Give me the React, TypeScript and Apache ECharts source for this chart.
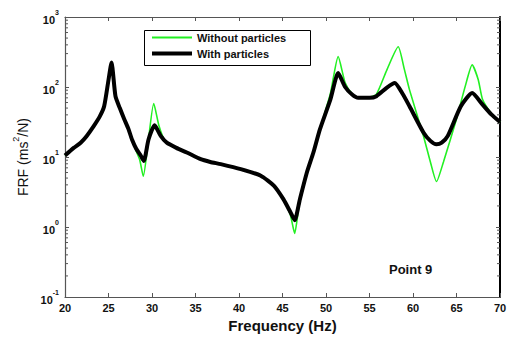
import React, { useEffect, useRef } from "react";
import * as echarts from "echarts";

const freqWith = [20, 21, 21.8, 22.5, 23.3, 24, 24.5, 25, 25.35, 25.8, 26.3, 26.8, 27.3, 27.7, 28.2, 28.7, 29.06, 29.6, 30.3, 31, 31.7, 32.8, 34, 35.6, 36.7, 37.9, 40.2, 42.5, 44, 45.1, 45.9, 46.4, 47, 47.8, 48.55, 49.3, 50.5, 51.4, 52.2, 53, 53.7, 55, 55.8, 57, 57.9, 58.8, 59.6, 61.2, 62, 62.7, 63.3, 64, 65.5, 66.8, 68, 69, 70];
const valWith = [10.5, 13.5, 16, 20, 27.6, 38, 53, 126, 223, 74, 50, 35, 25, 17.8, 13, 10.5, 8.8, 17.8, 28.3, 20, 16, 13.5, 11.6, 9.3, 8.5, 7.9, 6.7, 5.4, 3.9, 2.5, 1.64, 1.25, 2.5, 6.0, 11.6, 24.8, 66, 158, 100, 78, 70, 70, 74, 98, 114, 80, 53, 22.4, 17, 15.2, 16, 20, 53, 82, 56, 40.6, 31.6];

const freqWithout = [20, 21, 21.8, 22.5, 23.3, 24, 24.5, 25, 25.35, 25.8, 26.3, 26.8, 27.3, 27.7, 28.2, 28.6, 29.0, 29.5, 30.2, 30.8, 31.5, 32.8, 34, 35.6, 36.7, 37.9, 40.2, 42.5, 44, 45.1, 45.9, 46.4, 46.9, 47.8, 48.55, 49.3, 50.5, 51.4, 52.2, 53, 53.7, 55, 55.8, 57, 58.3, 59, 59.6, 61.2, 62, 62.7, 63.5, 65, 66, 66.8, 67.5, 68, 69, 70];
const valWithout = [10.5, 13.5, 16, 20, 27.6, 38, 53, 126, 223, 74, 50, 35, 25, 17.8, 12, 9, 5.3, 14, 58, 28, 17, 13.5, 11.6, 9.3, 8.5, 7.9, 6.7, 5.4, 3.9, 2.5, 1.5, 0.81, 2.0, 6.0, 11.6, 24.8, 80, 272, 115, 80, 70, 72, 79, 176, 376, 180, 91, 20, 8.5, 4.46, 8.5, 35, 102, 207, 127, 66, 42, 31.6];

const seriesNames = ["Without particles", "With particles"];
const xTicks = [20, 25, 30, 35, 40, 45, 50, 55, 60, 65, 70];
const yDecades = [-1, 0, 1, 2, 3];
const minorMultipliers = [2, 3, 4, 5, 6, 7, 8, 9];

const FONT = "'Liberation Sans', Arial, sans-serif";

export default function App() {
  const ref = useRef<HTMLDivElement>(null);
  useEffect(() => {
    if (!ref.current) return;
    const chart = echarts.init(ref.current, null, { renderer: "svg" });
    const xMin = xTicks[0];
    const xMax = xTicks[xTicks.length - 1];
    const yMin = Math.pow(10, yDecades[0]);
    const yMax = Math.pow(10, yDecades[yDecades.length - 1]);
    const minorData: number[][] = [];
    yDecades.slice(0, -1).forEach((d) => {
      minorMultipliers.forEach((m) => minorData.push([xMin, m * Math.pow(10, d)]));
    });
    const grayAxis = { lineStyle: { color: "#555", width: 1.2 } };
    const legendText = { fontFamily: FONT, fontWeight: "bold", fontSize: 11, color: "#111" };
    const option: any = {
      animation: false,
      backgroundColor: "#fff",
      textStyle: { fontFamily: FONT },
      grid: { left: 65, right: 18, top: 17, bottom: 39 },
      legend: [
        {
          data: [seriesNames[0]],
          left: 152,
          top: 32,
          z: 10,
          padding: 0,
          icon: "rect",
          itemWidth: 40,
          itemHeight: 2,
          itemGap: 0,
          textStyle: legendText,
        },
        {
          data: [seriesNames[1]],
          left: 152,
          top: 48,
          z: 10,
          padding: 0,
          icon: "rect",
          itemWidth: 40,
          itemHeight: 4,
          itemGap: 0,
          textStyle: legendText,
        },
      ],
      xAxis: [
        {
          type: "value",
          min: xMin,
          max: xMax,
          interval: 5,
          name: "Frequency (Hz)",
          nameLocation: "middle",
          nameGap: 21,
          nameTextStyle: { fontFamily: FONT, fontWeight: "bold", fontSize: 15, color: "#111" },
          axisLine: grayAxis,
          axisTick: { inside: true, length: 4, lineStyle: { color: "#555" } },
          axisLabel: { margin: 5, fontFamily: FONT, fontWeight: "bold", fontSize: 11, color: "#111" },
          splitLine: { show: false },
        },
        {
          type: "value",
          position: "top",
          min: xMin,
          max: xMax,
          interval: 5,
          axisLine: grayAxis,
          axisTick: { inside: true, length: 4, lineStyle: { color: "#555" } },
          axisLabel: { show: false },
          splitLine: { show: false },
        },
      ],
      yAxis: [
        {
          type: "log",
          logBase: 10,
          min: yMin,
          max: yMax,
          name: "{a|FRF (ms}{s|2}{a|/N)}",
          nameLocation: "middle",
          nameGap: 32,
          nameTextStyle: {
            fontFamily: FONT,
            fontSize: 14,
            color: "#111",
            rich: {
              a: { fontFamily: FONT, fontSize: 14, color: "#111", lineHeight: 18, verticalAlign: "bottom" },
              s: { fontFamily: FONT, fontSize: 9, color: "#111", lineHeight: 18, verticalAlign: "top" },
            },
          },
          axisLine: grayAxis,
          axisTick: { inside: true, length: 4, lineStyle: { color: "#555" } },
          axisLabel: {
            margin: 6,
            formatter: (v: number) => `{b|10}{s|${Math.round(Math.log10(v))}}`,
            rich: {
              b: { fontFamily: FONT, fontWeight: "bold", fontSize: 11, color: "#111", lineHeight: 16, verticalAlign: "bottom" },
              s: { fontFamily: FONT, fontWeight: "bold", fontSize: 7, color: "#111", lineHeight: 16, verticalAlign: "top" },
            },
          },
          splitLine: { show: false },
        },
        {
          type: "log",
          logBase: 10,
          position: "right",
          min: yMin,
          max: yMax,
          axisLine: { lineStyle: { color: "#000", width: 2 } },
          axisTick: { inside: true, length: 4, lineStyle: { color: "#555" } },
          axisLabel: { show: false },
          splitLine: { show: false },
        },
      ],
      graphic: [
        {
          type: "rect",
          left: 144,
          top: 30,
          z: 5,
          shape: { width: 166, height: 35 },
          style: { fill: "#fff", stroke: "#000", lineWidth: 1 },
        },
        {
          type: "text",
          left: 389,
          top: 263,
          style: { text: "Point 9", fontFamily: FONT, fontWeight: "bold", fontSize: 13, fill: "#111" },
        },
      ],
      series: [
        {
          name: seriesNames[0],
          type: "line",
          data: freqWithout.map((f, i) => [f, valWithout[i]]),
          showSymbol: false,
          symbol: "none",
          smooth: 0.2,
          lineStyle: { color: "#22f022", width: 1.6 },
          itemStyle: { color: "#22f022" },
          z: 2,
        },
        {
          name: seriesNames[1],
          type: "line",
          data: freqWith.map((f, i) => [f, valWith[i]]),
          showSymbol: false,
          symbol: "none",
          smooth: 0.2,
          lineStyle: { color: "#000", width: 4 },
          itemStyle: { color: "#000" },
          z: 3,
        },
        {
          type: "custom",
          silent: true,
          data: minorData,
          renderItem: (_p: any, api: any) => {
            const v = api.value(1);
            const l = api.coord([xMin, v]);
            const r = api.coord([xMax, v]);
            const st = { stroke: "#555", lineWidth: 1 };
            return {
              type: "group",
              children: [
                { type: "line", shape: { x1: l[0], y1: l[1], x2: l[0] + 3, y2: l[1] }, style: st },
                { type: "line", shape: { x1: r[0], y1: r[1], x2: r[0] - 3, y2: r[1] }, style: st },
              ],
            };
          },
          z: 1,
        },
      ],
    };
    chart.setOption(option);
    return () => chart.dispose();
  }, []);
  return <div ref={ref} style={{ position: "absolute", left: 0, top: 0, width: 518, height: 338 }} />;
}
